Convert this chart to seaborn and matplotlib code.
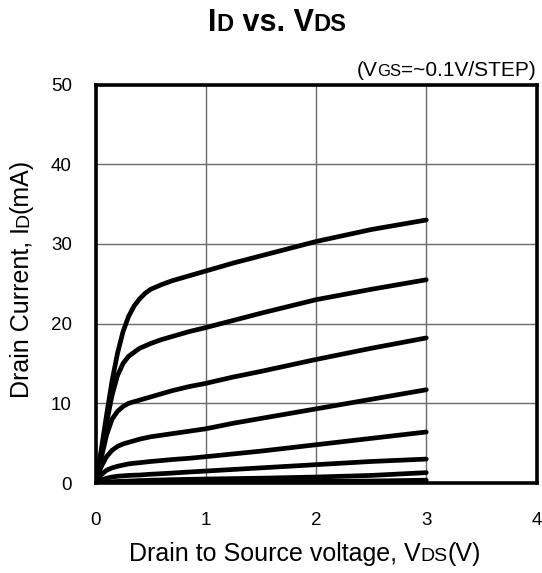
import numpy as np
import pandas as pd
import matplotlib
matplotlib.use("Agg")
import matplotlib.pyplot as plt
from matplotlib.transforms import IdentityTransform
import seaborn as sns

# ---- data ----
vds = [0, 0.05, 0.1, 0.15, 0.2, 0.25, 0.3, 0.35, 0.4, 0.45, 0.5, 0.6, 0.7, 0.85, 1.0, 1.25, 1.5, 2.0, 2.5, 3.0]
id_step1 = [0, 4.0, 8.5, 12.8, 16.3, 19.0, 20.9, 22.2, 23.1, 23.8, 24.3, 24.9, 25.4, 26.0, 26.6, 27.6, 28.5, 30.3, 31.8, 33.0]
id_step2 = [0, 3.5, 7.5, 11.0, 13.5, 15.0, 15.9, 16.4, 16.9, 17.2, 17.5, 18.0, 18.4, 19.0, 19.5, 20.4, 21.3, 23.0, 24.3, 25.5]
id_step3 = [0, 3.0, 6.0, 8.0, 9.0, 9.6, 10.0, 10.2, 10.4, 10.6, 10.8, 11.2, 11.6, 12.1, 12.5, 13.3, 14.0, 15.5, 16.9, 18.2]
id_step4 = [0, 2.0, 3.3, 4.1, 4.6, 4.9, 5.1, 5.3, 5.5, 5.65, 5.8, 6.0, 6.2, 6.5, 6.8, 7.5, 8.1, 9.3, 10.5, 11.7]
id_step5 = [0, 1.0, 1.6, 1.9, 2.1, 2.25, 2.4, 2.48, 2.55, 2.62, 2.7, 2.82, 2.95, 3.1, 3.3, 3.65, 4.0, 4.8, 5.6, 6.4]
id_step6 = [0, 0.35, 0.6, 0.75, 0.85, 0.9, 0.95, 0.98, 1.0, 1.05, 1.1, 1.17, 1.25, 1.38, 1.5, 1.7, 1.9, 2.3, 2.7, 3.0]
id_step7 = [0, 0.05, 0.1, 0.15, 0.2, 0.22, 0.25, 0.27, 0.3, 0.32, 0.35, 0.38, 0.42, 0.46, 0.5, 0.55, 0.6, 0.75, 0.95, 1.3]
id_step8 = [0, 0.02, 0.04, 0.05, 0.06, 0.07, 0.08, 0.085, 0.09, 0.095, 0.1, 0.11, 0.12, 0.13, 0.15, 0.16, 0.18, 0.2, 0.25, 0.35]
x_ticks = [0, 1, 2, 3, 4]
y_ticks = [0, 10, 20, 30, 40, 50]

series = [id_step1, id_step2, id_step3, id_step4, id_step5, id_step6, id_step7, id_step8]
frames = []
for i, ys in enumerate(series):
    frames.append(pd.DataFrame({"VDS": vds, "ID": ys, "step": f"s{i+1}"}))
df = pd.concat(frames, ignore_index=True)

sns.set_style("white")
plt.rcParams["font.family"] = ["Liberation Sans", "DejaVu Sans"]

W, H = 542, 573
fig = plt.figure(figsize=(W / 100, H / 100), dpi=100)
ax = fig.add_axes([95.5 / W, 1 - 483 / H, 441 / W, 398.5 / H])

sns.lineplot(data=df, x="VDS", y="ID", hue="step", palette=["black"] * len(series),
             estimator=None, sort=False, legend=False, lw=3.4, ax=ax, zorder=3)
for ln in ax.lines:
    ln.set_solid_joinstyle("round")
    ln.set_solid_capstyle("round")

ax.set_xlim(0, 4)
ax.set_ylim(0, 50)
ax.set_xticks(x_ticks)
ax.set_yticks(y_ticks)
ax.set_xticklabels([str(t) for t in x_ticks])
ax.set_yticklabels([str(t) for t in y_ticks])
ax.tick_params(axis="both", length=0, labelsize=13.5, colors="black")
ax.tick_params(axis="y", pad=17)
ax.tick_params(axis="x", pad=21)
ax.set_xlabel("")
ax.set_ylabel("")
ax.set_axisbelow(True)
ax.grid(True, color="#6a6a6a", lw=1.0)
for sp in ax.spines.values():
    sp.set_visible(True)
    sp.set_color("black")
    sp.set_linewidth(2.6)
    sp.set_zorder(5)

renderer = fig.canvas.get_renderer()


def rich(x, y_top, parts, ha="left", rotation=0, weight="normal"):
    """Place text runs of different sizes on a common baseline (pixel coords, y from top)."""
    texts = []
    for s, size in parts:
        t = fig.text(0, 0, s, fontsize=size, weight=weight, rotation=rotation,
                     rotation_mode="anchor", ha="left", va="baseline",
                     transform=IdentityTransform(), color="black")
        texts.append(t)
    lens = []
    for t in texts:
        bb = t.get_window_extent(renderer)
        lens.append(bb.width if rotation == 0 else bb.height)
    total = sum(lens)
    if ha == "center":
        start = -total / 2
    elif ha == "right":
        start = -total
    else:
        start = 0
    pos = start
    yb = H - y_top
    for t, L in zip(texts, lens):
        if rotation == 0:
            t.set_position((x + pos, yb))
        else:
            t.set_position((x, yb + pos))
        pos += L


rich(277.5, 31, [("I", 22), ("D", 17), (" vs. V", 22), ("DS", 17)], ha="center", weight="bold")
rich(536, 76, [("(V", 15), ("GS", 12), ("=~0.1V/STEP)", 15)], ha="right")
rich(305, 561, [("Drain to Source voltage, V", 18), ("DS", 14), ("(V)", 18)], ha="center")
# rotated y label: x is baseline position, y_top is center
rich(28, 278.5, [("Drain Current, I", 18), ("D", 14), ("(mA)", 18)], ha="center", rotation=90)

fig.savefig("out.png", dpi=100)
